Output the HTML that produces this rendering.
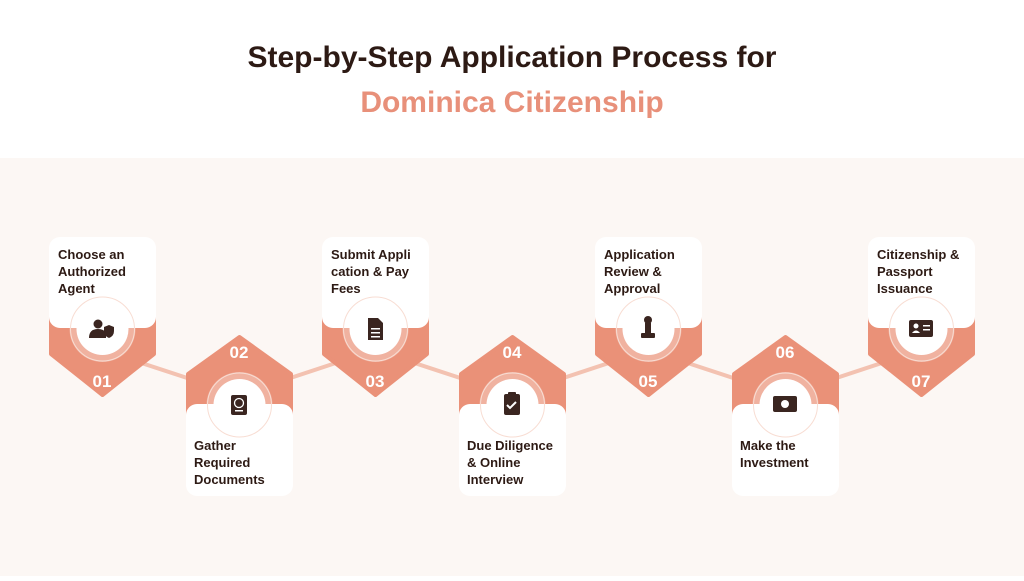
<!DOCTYPE html>
<html><head><meta charset="utf-8"><style>
body{margin:0;width:1024px;height:576px;overflow:hidden;background:#fff;font-family:"Liberation Sans",sans-serif}
</style></head><body>
<svg width="1024" height="576" xmlns="http://www.w3.org/2000/svg" font-family="Liberation Sans, sans-serif">
<rect x="0" y="0" width="1024" height="158" fill="#ffffff"/>
<rect x="0" y="158" width="1024" height="418" fill="#fcf7f4"/>
<text x="512" y="67" text-anchor="middle" font-size="30" font-weight="bold" fill="#2d1a14">Step-by-Step Application Process for</text>
<text x="512" y="112" text-anchor="middle" font-size="30" font-weight="bold" fill="#e8907a">Dominica Citizenship</text>
<g stroke="#f3c2b1" stroke-width="4">
<line x1="102" y1="350" x2="239" y2="395"/><line x1="239" y1="395" x2="375" y2="350"/>
<line x1="375" y1="350" x2="512" y2="395"/><line x1="512" y1="395" x2="648" y2="350"/>
<line x1="648" y1="350" x2="785" y2="395"/><line x1="785" y1="395" x2="921" y2="350"/>
</g>
<defs>
<g id="top">
<path d="M2,300 L105,300 L105,354 L53.5,395 L2,354 Z" fill="#ea9178" stroke="#ea9178" stroke-width="4" stroke-linejoin="round"/>
<circle cx="53.5" cy="329" r="33" fill="#fff" fill-opacity="0.3"/>
<rect x="0" y="237" width="107" height="91" rx="11" fill="#fff"/>
<circle cx="53.5" cy="329" r="32" fill="none" stroke="#f8ddd3" stroke-width="1"/>
<circle cx="53.5" cy="329" r="26" fill="#fff"/>
</g>
<g id="bot">
<path d="M2,374 L53.5,337 L105,374 L105,420 L2,420 Z" fill="#ea9178" stroke="#ea9178" stroke-width="4" stroke-linejoin="round"/>
<circle cx="53.5" cy="405" r="33" fill="#fff" fill-opacity="0.3"/>
<rect x="0" y="404" width="107" height="92" rx="11" fill="#fff"/>
<circle cx="53.5" cy="405" r="32" fill="none" stroke="#f8ddd3" stroke-width="1"/>
<circle cx="53.5" cy="405" r="26" fill="#fff"/>
</g>
</defs>
<use href="#top" x="49"/><use href="#bot" x="186"/><use href="#top" x="322"/><use href="#bot" x="459"/>
<use href="#top" x="595"/><use href="#bot" x="732"/><use href="#top" x="868"/>
<g font-size="17" font-weight="bold" fill="#fff" text-anchor="middle">
<text x="102" y="387">01</text><text x="239" y="358">02</text><text x="375" y="387">03</text>
<text x="512" y="358">04</text><text x="648" y="387">05</text><text x="785" y="358">06</text><text x="921" y="387">07</text>
</g>
<g font-size="13" font-weight="bold" fill="#2d1a14">
<text x="58" y="259">Choose an</text><text x="58" y="276">Authorized</text><text x="58" y="293">Agent</text>
<text x="331" y="259">Submit Appli</text><text x="331" y="276">cation &amp; Pay</text><text x="331" y="293">Fees</text>
<text x="604" y="259">Application</text><text x="604" y="276">Review &amp;</text><text x="604" y="293">Approval</text>
<text x="877" y="259">Citizenship &amp;</text><text x="877" y="276">Passport</text><text x="877" y="293">Issuance</text>
<text x="194" y="450">Gather</text><text x="194" y="467">Required</text><text x="194" y="484">Documents</text>
<text x="467" y="450">Due Diligence</text><text x="467" y="467">&amp; Online</text><text x="467" y="484">Interview</text>
<text x="740" y="450">Make the</text><text x="740" y="467">Investment</text>
</g>
<g fill="#3a2520">
<circle cx="98" cy="324" r="4.5"/><path d="M89,338 q0,-9 9,-9 q6,0 8,4 v5 z"/><path d="M104,327 l5,-2 l5,2 v4 q0,5 -5,7 q-5,-2 -5,-7z"/>
<rect x="231" y="395" width="16" height="20" rx="2"/><circle cx="239" cy="403" r="4.5" fill="none" stroke="#fff" stroke-width="1.3"/><rect x="235" y="410" width="8" height="1.5" fill="#fff"/>
<path d="M368,318 h10 l5,5 v17 h-15z"/><g fill="#fff"><rect x="371" y="328" width="9" height="1.5"/><rect x="371" y="332" width="9" height="1.5"/><rect x="371" y="336" width="9" height="1.5"/></g>
<rect x="504" y="394" width="16" height="21" rx="2"/><rect x="508" y="392" width="8" height="4" rx="1"/><path d="M507,405 l3,3 l6,-6" stroke="#fff" stroke-width="2" fill="none"/>
<circle cx="648" cy="320" r="4"/><rect x="645" y="323" width="6" height="10"/><rect x="641" y="333" width="14" height="5" rx="1"/>
<rect x="773" y="396" width="24" height="16" rx="2"/><circle cx="785" cy="404" r="4" fill="#fff"/>
<rect x="909" y="320" width="24" height="17" rx="2"/><circle cx="916" cy="326" r="2.5" fill="#fff"/><path d="M912,333 q4,-5 8,0z" fill="#fff"/><g fill="#fff"><rect x="923" y="325" width="7" height="1.5"/><rect x="923" y="329" width="7" height="1.5"/></g>
</g>
</svg>
</body></html>
